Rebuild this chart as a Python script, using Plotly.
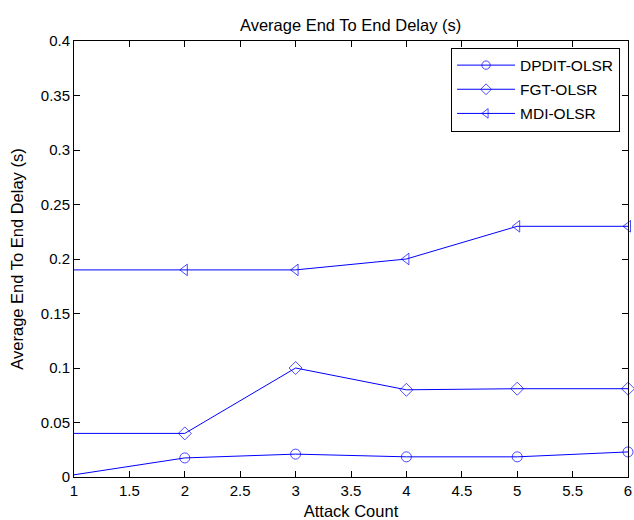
import plotly.graph_objects as go

# Attack count on the x axis
attack_count = [1, 2, 3, 4, 5, 6]

# Average end-to-end delay (s) per protocol
dpdit_olsr = [0.002, 0.0175, 0.021, 0.0185, 0.0185, 0.023]
fgt_olsr = [0.040, 0.040, 0.100, 0.080, 0.081, 0.081]
mdi_olsr = [0.190, 0.190, 0.190, 0.200, 0.230, 0.230]

x_ticks = [1, 1.5, 2, 2.5, 3, 3.5, 4, 4.5, 5, 5.5, 6]
y_ticks = [0, 0.05, 0.1, 0.15, 0.2, 0.25, 0.3, 0.35, 0.4]

BLUE = "rgb(0,0,255)"
FONT = "Liberation Sans, Arial, sans-serif"

series = [
    ("DPDIT-OLSR", dpdit_olsr, "circle-open"),
    ("FGT-OLSR", fgt_olsr, "diamond-open"),
    ("MDI-OLSR", mdi_olsr, "triangle-left-open"),
]

fig = go.Figure()
for name, values, symbol in series:
    # the first sample is drawn as a plain line start, without a marker
    sizes = [0] + [10] * (len(values) - 1)
    fig.add_trace(go.Scatter(
        x=attack_count, y=values, name=name, mode="lines+markers",
        legendgroup=name,
        line=dict(color=BLUE, width=1),
        marker=dict(symbol=symbol, size=sizes, color=BLUE,
                    line=dict(color=BLUE, width=1)),
        cliponaxis=False,
    ))

axis_common = dict(
    showline=True, linecolor="black", linewidth=1, mirror="ticks",
    ticks="inside", ticklen=6, tickcolor="black", tickwidth=1,
    showgrid=False, zeroline=False, automargin=False,
    tickfont=dict(family=FONT, size=15, color="black"),
)

fig.update_layout(
    width=634, height=520,
    margin=dict(l=74, r=6, t=41, b=43),
    paper_bgcolor="white", plot_bgcolor="white",
    font=dict(family=FONT, color="black"),
    title=dict(text="Average End To End Delay (s)", x=0.553, xanchor="center",
               y=0.951, yanchor="middle", font=dict(size=16.5, family=FONT, color="black")),
    xaxis=dict(range=[1, 6], tickvals=x_ticks,
               ticktext=[f"{v:g}" for v in x_ticks],
               title=dict(text="Attack Count", standoff=8,
                          font=dict(size=16.5, family=FONT)),
               **axis_common),
    yaxis=dict(range=[0, 0.4], tickvals=y_ticks,
               ticktext=[f"{v:g}" for v in y_ticks],
               title=dict(text="Average End To End Delay (s)", standoff=13,
                          font=dict(size=16.5, family=FONT)),
               **axis_common),
    legend=dict(x=0.9856, y=0.985, xanchor="right", yanchor="top",
                bordercolor="black", borderwidth=1, bgcolor="white",
                font=dict(family=FONT, size=15.5, color="black"),
                tracegroupgap=1, itemwidth=58),
    showlegend=True,
)

fig.write_html("out.html")
